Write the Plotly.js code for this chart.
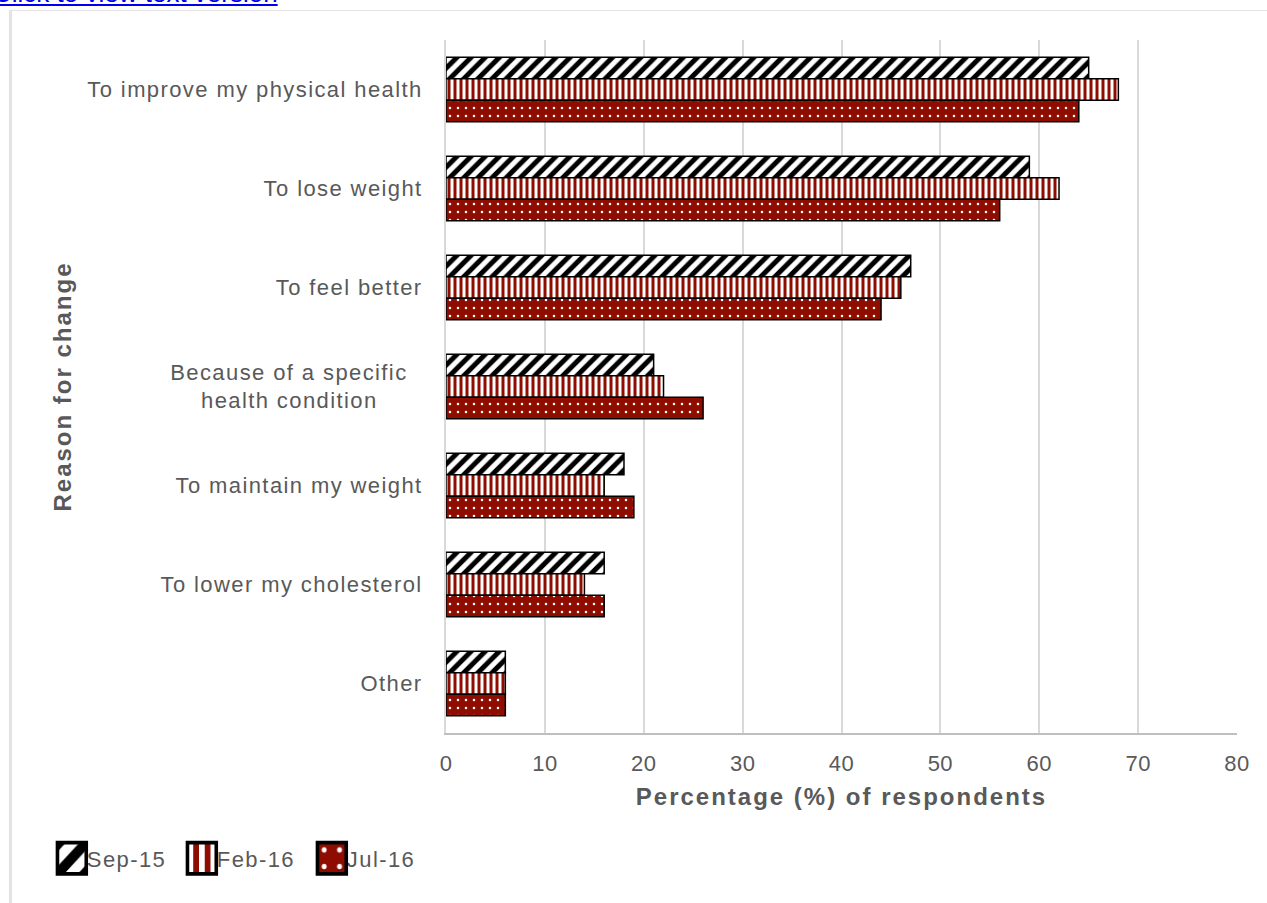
<!DOCTYPE html>
<html>
<head>
<meta charset="utf-8">
<script src="https://cdn.plot.ly/plotly-3.0.1.min.js"></script>
<style>
  html, body { margin: 0; padding: 0; background: #fff; width: 1267px; height: 903px; overflow: hidden; }
  #link { position: absolute; left: -7px; top: -22px; font-family: "Liberation Sans", Arial, sans-serif; font-size: 26px; color: #0000ee; text-decoration: underline; z-index: 3; white-space: nowrap; }
  #frame { position: absolute; left: 9px; top: 10px; width: 1258px; height: 893px; border-left: 3px solid #e3e3e3; border-top: 1px solid #e3e3e3; box-sizing: border-box; z-index: 1; }
  #chart { position: absolute; left: 0; top: 0; width: 1267px; height: 903px; z-index: 2; }
  #chart .ytick text { letter-spacing: 1.4px; }
  #chart .xtick text { letter-spacing: 0.5px; }
  #chart .xtitle, #chart .ytitle { letter-spacing: 2px; }
  #chart .legendtext { letter-spacing: 1.4px; }
  #chart .legendpoints path { transform: translate(25px, 0px) scale(2.4, 2.6); }
</style>
</head>
<body>
<a id="link" href="#">Click to view text version</a>
<div id="frame"></div>
<div id="chart"></div>
<script>
const categories = [
  "To improve my physical health",
  "To lose weight",
  "To feel better",
  "Because of a specific health condition",
  "To maintain my weight",
  "To lower my cholesterol",
  "Other"
];
const tickLabels = [
  "To improve my physical health",
  "To lose weight",
  "To feel better",
  "Because of a specific\u00A0\u00A0<br>health condition\u00A0\u00A0\u00A0\u00A0\u00A0\u00A0",
  "To maintain my weight",
  "To lower my cholesterol",
  "Other"
];
const seriesNames = ["Sep-15", "Feb-16", "Jul-16"];
const sep15 = [65, 59, 47, 21, 18, 16, 6];
const feb16 = [68, 62, 46, 22, 16, 14, 6];
const jul16 = [64, 56, 44, 26, 19, 16, 6];
const xTicks = [0, 10, 20, 30, 40, 50, 60, 70, 80];

const DARK_RED = "#8e0c00";
const GREY = "#595959";

const traces = [
  {
    type: "bar", orientation: "h", name: seriesNames[0], y: categories, x: sep15,
    marker: {
      color: "#ffffff",
      line: { color: "#000000", width: 1.5 },
      pattern: { shape: "/", fgcolor: "#000000", bgcolor: "#ffffff", fgopacity: 1, size: 10, solidity: 0.5 }
    },
    hoverinfo: "x+name"
  },
  {
    type: "bar", orientation: "h", name: seriesNames[1], y: categories, x: feb16,
    marker: {
      color: "#ffffff",
      line: { color: "#000000", width: 1.5 },
      pattern: { shape: "|", fgcolor: DARK_RED, bgcolor: "#ffffff", fgopacity: 1, size: 6, solidity: 0.5 }
    },
    hoverinfo: "x+name"
  },
  {
    type: "bar", orientation: "h", name: seriesNames[2], y: categories, x: jul16,
    marker: {
      color: DARK_RED,
      line: { color: "#000000", width: 1.5 },
      pattern: { shape: ".", fgcolor: "#ffffff", bgcolor: DARK_RED, fgopacity: 1, size: 8, solidity: 0.08 }
    },
    hoverinfo: "x+name"
  }
];

const layout = {
  width: 1267, height: 903,
  paper_bgcolor: "rgba(0,0,0,0)",
  plot_bgcolor: "rgba(0,0,0,0)",
  font: { family: "Liberation Sans, Arial, sans-serif", size: 22, color: GREY },
  margin: { l: 446, r: 30, t: 40, b: 170, pad: 0 },
  barmode: "group",
  bargap: 0.35,
  bargroupgap: 0,
  showlegend: true,
  legend: {
    orientation: "h",
    x: -0.5046, xanchor: "left",
    y: -0.181, yanchor: "middle",
    font: { size: 22, color: GREY },
    itemwidth: 30,
    entrywidth: 85, entrywidthmode: "pixels",
    traceorder: "normal",
    bgcolor: "rgba(0,0,0,0)"
  },
  xaxis: {
    range: [0, 80],
    tickvals: xTicks,
    ticktext: xTicks.map(String),
    showgrid: true, gridcolor: "#d9d9d9", gridwidth: 2,
    zeroline: false,
    showline: true, linecolor: "#bfbfbf", linewidth: 2,
    ticks: "", ticklabelstandoff: 10,
    tickfont: { size: 22, color: GREY },
    title: { text: "Percentage (%) of respondents", font: { size: 24, color: GREY, weight: "bold" }, standoff: 13 },
    fixedrange: true
  },
  yaxis: {
    type: "category",
    autorange: "reversed",
    tickvals: categories,
    ticktext: tickLabels,
    showgrid: false,
    showline: true, linecolor: "#d9d9d9", linewidth: 2,
    ticks: "", ticklabelstandoff: 17,
    tickfont: { size: 22, color: GREY },
    title: { text: "Reason for change", font: { size: 24, color: GREY, weight: "bold" }, standoff: 50 },
    fixedrange: true
  }
};

Plotly.newPlot("chart", traces, layout, { displayModeBar: false, responsive: false });
</script>
</body>
</html>
